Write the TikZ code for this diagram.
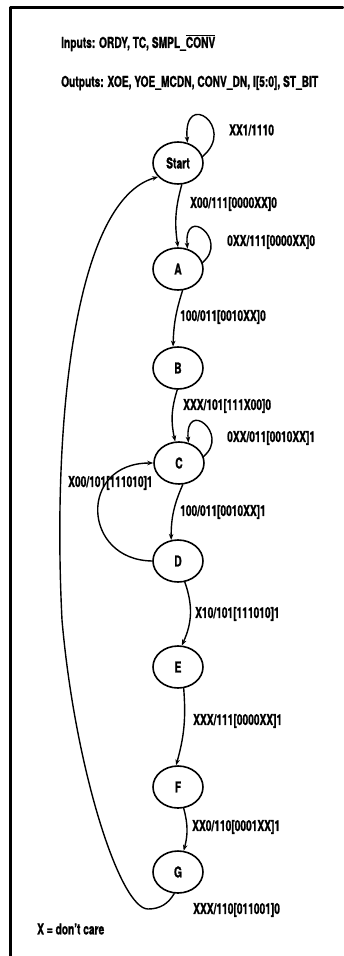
\documentclass[tikz,border=0pt]{standalone}
\usepackage{fontspec}
\setmainfont{TeX Gyre Heros}[FakeStretch=0.68, BoldFeatures={FakeBold=1.2}]
\usetikzlibrary{arrows.meta,shapes.geometric}

\begin{document}
\begin{tikzpicture}[
    x=1pt,
    y=1pt,
    line cap=round,
    line join=round,
    frame/.style={
        line width=2.2pt
    },
    state/.style={
        draw,
        ellipse,
        line width=1.6pt,
        minimum width=50pt,
        minimum height=42pt,
        inner sep=0pt
    },
    trans/.style={
        line width=1.4pt,
        -{Stealth[length=6pt,width=4.5pt]}
    },
    lbl/.style={
        anchor=west,
        inner sep=0pt
    },
    every node/.style={
        font=\fontsize{15}{17}\selectfont\bfseries
    }
]

\useasboundingbox (0,0) rectangle (343,-956);

% =================================================
% Рамка
% =================================================

\draw[frame] (343,-7.5) -- (10.5,-7.5) -- (10.5,-956);

% =================================================
% Состояния
% =================================================

\node[state] (Start) at (178,-163) {Start};
\node[state] (A)     at (178,-269) {A};
\node[state] (B)     at (178,-368) {B};
\node[state] (C)     at (179,-463) {C};
\node[state] (D)     at (178,-561) {D};
\node[state] (E)     at (178,-667) {E};
\node[state] (F)     at (178,-787) {F};
\node[state] (G)     at (178,-872) {G};

\coordinate (gb) at (148,-909);
\coordinate (gm) at (62,-620);

% =================================================
% Переходы
% =================================================

% Петли
\draw[trans] (Start.15) .. controls +(40:45) and +(95:55) .. (Start.65);
\draw[trans] (A.15) .. controls +(40:35) and +(95:45) .. (A.65);
\draw[trans] (C.15) .. controls +(40:35) and +(95:45) .. (C.65);

% Основная цепочка
\draw[trans] (Start.-80) to[bend right=12] (A.90);
\draw[trans] (A.-78) to[bend right=8] (B.103);
\draw[trans] (B.-92) to[bend right=15] (C.100);
\draw[trans] (C.-80) to[bend right=12] (D.108);
\draw[trans] (D.-72) to[bend left=22] (E.80);
\draw[trans] (E.-75) to[bend left=10] (F.95);
\draw[trans] (F.-75) to[bend left=15] (G.75);

% Возвраты
\draw[trans] (D.180) .. controls (82,-560) and (78,-463) .. (C.180);
\draw[trans] (G.-100) to[out=-120,in=0] (gb)
    .. controls (120,-909) and (75,-769) .. (gm)
    .. controls (52,-420) and (75,-200) .. (Start.-145);

% =================================================
% Подписи
% =================================================

\node[lbl] (lIn)  at (61,-43) {Inputs: ORDY, TC, SMPL\_$\overline{\hbox{CONV}}$};
\node[lbl] (lOut) at (61,-83) {Outputs: XOE, YOE\_MCDN, CONV\_DN, I[5:0], ST\_BIT};

\node[lbl] (lSS) at (229,-130) {XX1/1110};
\node[lbl] (lSA) at (190,-204) {X00/111[0000XX]0};
\node[lbl] (lAA) at (227,-242) {0XX/111[0000XX]0};
\node[lbl] (lAB) at (180,-317) {100/011[0010XX]0};
\node[lbl] (lBC) at (183,-406) {XXX/101[111X00]0};
\node[lbl] (lCC) at (227,-438) {0XX/011[0010XX]1};
\node[lbl] (lDC) at (68,-483)  {X00/101[111010]1};
\node[lbl] (lCD) at (180,-512) {100/011[0010XX]1};
\node[lbl] (lDE) at (195,-614) {X10/101[111010]1};
\node[lbl] (lEF) at (193,-721) {XXX/111[0000XX]1};
\node[lbl] (lFG) at (192,-827) {XX0/110[0001XX]1};
\node[lbl] (lGS) at (193,-910) {XXX/110[011001]0};

\node[lbl] (lNote) at (37,-929) {X = don't care};

\end{tikzpicture}
\end{document}
